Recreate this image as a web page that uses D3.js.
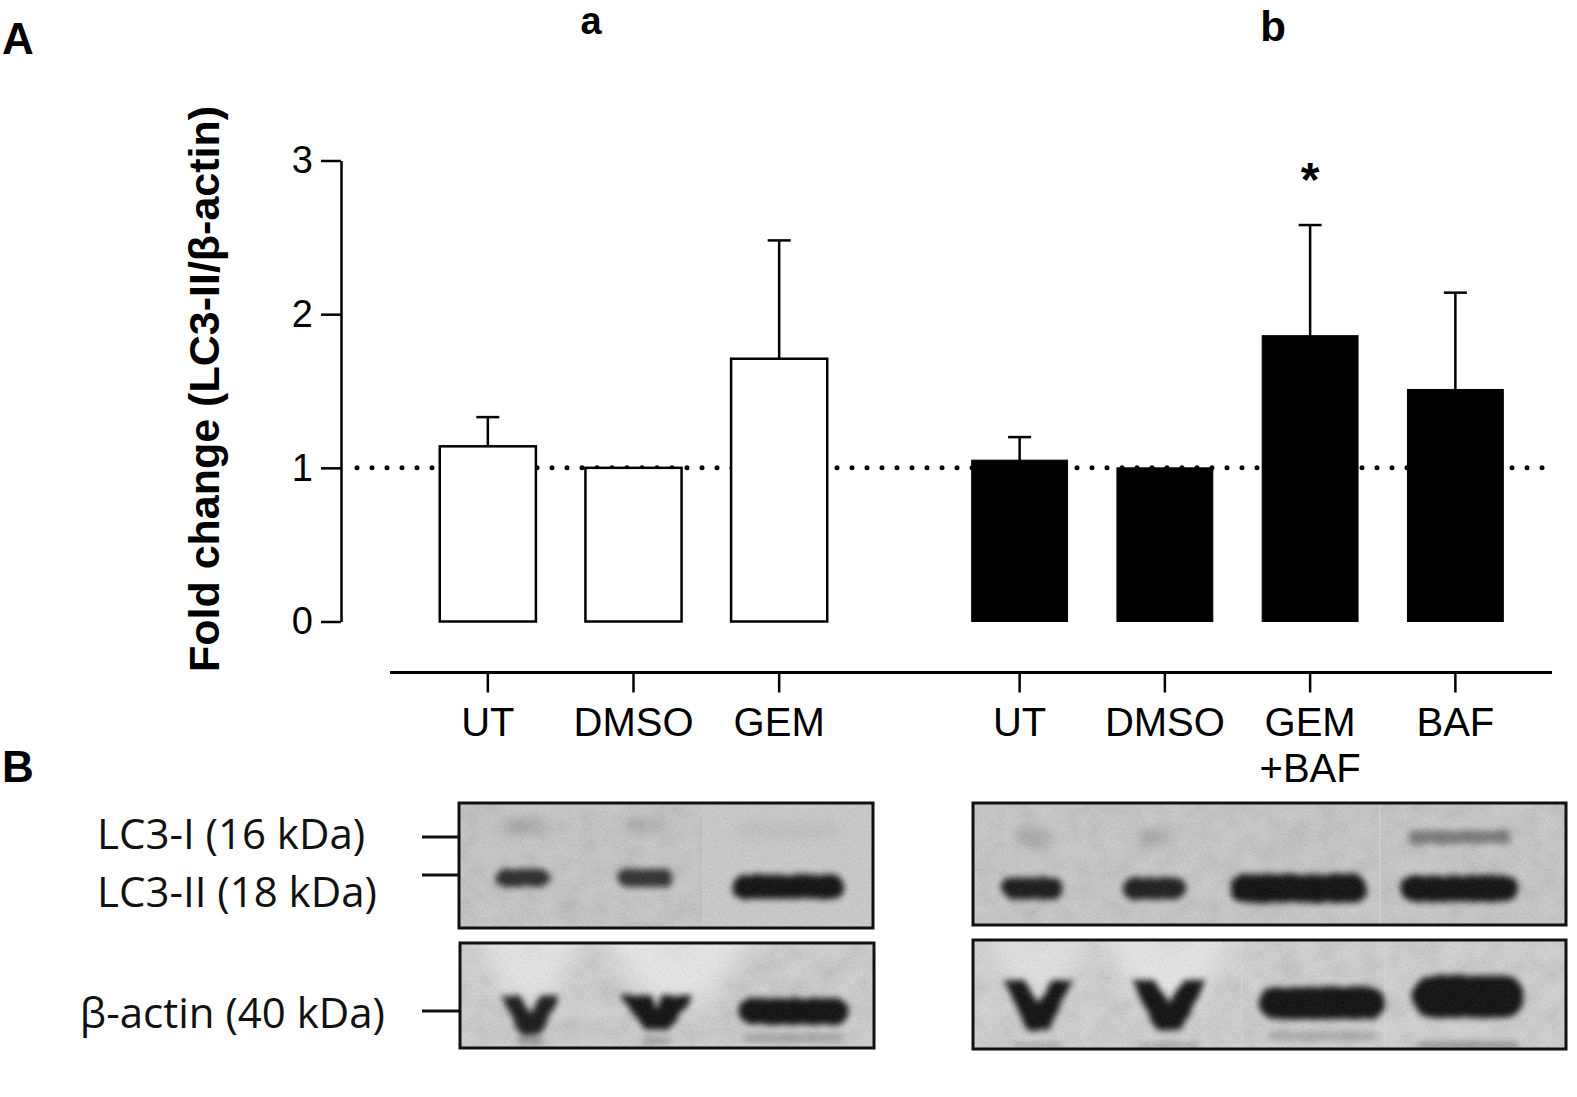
<!DOCTYPE html>
<html>
<head>
<meta charset="utf-8">
<script src="https://cdn.jsdelivr.net/npm/d3@7"></script>
<style>
  body { margin: 0; background: #fff; }
  svg { display: block; }
</style>
</head>
<body>
<div id="chart"></div>
<script>
// ---- data ----
// group a: GEM alone (open bars), group b: with bafilomycin (filled bars)
const catsA = ["UT", "DMSO", "GEM"];
const meanA = [1.14, 1.0, 1.71];
const semA = [0.19, 0, 0.77];

const catsB = ["UT", "DMSO", "GEM+BAF", "BAF"];
const meanB = [1.05, 1.0, 1.86, 1.51];
const semB = [0.15, 0, 0.72, 0.63];
const sigB = ["", "", "*", ""];

const yTicks = [0, 1, 2, 3];

// western blots: relative band intensity per lane (0..1)
const lanesA = ["UT", "DMSO", "GEM"];
const lc3iA = [0.17, 0.15, 0.06];
const lc3iiA = [0.85, 0.82, 1.0];
const actinA = [0.95, 1.0, 1.0];

const lanesB = ["UT", "DMSO", "GEM+BAF", "BAF"];
const lc3iB = [0.18, 0.16, 0.05, 0.42];
const lc3iiB = [0.95, 0.92, 1.0, 1.0];
const actinB = [1.0, 1.0, 1.0, 1.0];

// ---- setup ----
const W = 1577, H = 1097;
const sans = "'Liberation Sans', Arial, Helvetica, sans-serif";
const blotFont = "'Open Sans', 'DejaVu Sans', sans-serif";

const svg = d3.select("#chart").append("svg")
    .attr("width", W)
    .attr("height", H)
    .attr("font-family", sans);

const defs = svg.append("defs");
[["blur2", 2], ["blur3", 3], ["blur6", 6], ["blur12", 12]].forEach(([id, s]) => {
    defs.append("filter").attr("id", id)
        .attr("x", "-50%").attr("y", "-50%").attr("width", "200%").attr("height", "200%")
        .append("feGaussianBlur").attr("stdDeviation", s);
});
// rough edged band: displace then blur
const rough = defs.append("filter").attr("id", "rough")
    .attr("x", "-30%").attr("y", "-60%").attr("width", "160%").attr("height", "220%");
rough.append("feTurbulence").attr("type", "fractalNoise")
    .attr("baseFrequency", 0.1).attr("numOctaves", 2).attr("seed", 4).attr("result", "n");
rough.append("feDisplacementMap").attr("in", "SourceGraphic").attr("in2", "n")
    .attr("scale", 4).attr("xChannelSelector", "R").attr("yChannelSelector", "G").attr("result", "d");
rough.append("feGaussianBlur").attr("in", "d").attr("stdDeviation", 3.4);

// film grain for the blot scans
function noiseFilter(id, freq, alpha, seed) {
    const f = defs.append("filter").attr("id", id);
    f.append("feTurbulence")
        .attr("type", "fractalNoise").attr("baseFrequency", freq)
        .attr("numOctaves", 2).attr("seed", seed);
    f.append("feColorMatrix").attr("type", "matrix")
        .attr("values", "1 0 0 0 0  1 0 0 0 0  1 0 0 0 0  0 0 0 0 " + alpha);
}
noiseFilter("grain", 0.45, 0.16, 7);
noiseFilter("mottle", 0.05, 0.22, 11);

// ---- panel letters ----
svg.append("text").attr("x", 2).attr("y", 54)
    .attr("font-size", 44).attr("font-weight", "bold").text("A");
svg.append("text").attr("x", 2).attr("y", 782)
    .attr("font-size", 44).attr("font-weight", "bold").text("B");
svg.append("text").attr("x", 591).attr("y", 34).attr("text-anchor", "middle")
    .attr("font-size", 38).attr("font-weight", "bold").text("a");
svg.append("text").attr("x", 1273).attr("y", 41).attr("text-anchor", "middle")
    .attr("font-size", 42).attr("font-weight", "bold").text("b");

// ---- bar chart ----
const axisX = 341;
const y = d3.scaleLinear().domain([0, 3]).range([621.5, 160.5]);
const xA = d3.scaleBand().domain(catsA).range([415, 852])
    .paddingInner(0.34).paddingOuter(0.17);
const xB = d3.scaleBand().domain(catsB).range([947, 1528])
    .paddingInner(0.34).paddingOuter(0.17);

// y axis
const yAxisG = svg.append("g")
    .attr("transform", "translate(" + axisX + ",0)")
    .call(d3.axisLeft(y).tickValues(yTicks).tickSize(20).tickSizeOuter(0)
        .tickPadding(8).tickFormat(d3.format("d")));
yAxisG.select(".domain").attr("stroke-width", 2.5);
yAxisG.selectAll(".tick line").attr("stroke-width", 2.5);
yAxisG.selectAll(".tick text")
    .attr("font-size", 38).attr("font-family", sans).attr("fill", "#000");

svg.append("text")
    .attr("transform", "translate(219," + 389 + ") rotate(-90)")
    .attr("text-anchor", "middle")
    .attr("font-size", 43).attr("font-weight", "bold")
    .text("Fold change (LC3-II/β-actin)");

// dotted reference line at 1
svg.append("line")
    .attr("x1", axisX + 16).attr("x2", 1550)
    .attr("y1", y(1)).attr("y2", y(1))
    .attr("stroke", "#000").attr("stroke-width", 5)
    .attr("stroke-linecap", "round").attr("stroke-dasharray", "0 15");

function drawGroup(cats, means, sems, x, fill, cls) {
    const data = cats.map((c, i) => ({ c, m: means[i], e: sems[i] }));
    const g = svg.append("g").attr("class", cls);

    // error bars (upper only)
    const eb = g.selectAll(".err").data(data.filter(d => d.e > 0)).join("g").attr("class", "err");
    eb.append("line")
        .attr("x1", d => x(d.c) + x.bandwidth() / 2).attr("x2", d => x(d.c) + x.bandwidth() / 2)
        .attr("y1", d => y(d.m)).attr("y2", d => y(d.m + d.e))
        .attr("stroke", "#000").attr("stroke-width", 2.5);
    eb.append("line")
        .attr("x1", d => x(d.c) + x.bandwidth() / 2 - 11.5)
        .attr("x2", d => x(d.c) + x.bandwidth() / 2 + 11.5)
        .attr("y1", d => y(d.m + d.e)).attr("y2", d => y(d.m + d.e))
        .attr("stroke", "#000").attr("stroke-width", 2.5);

    g.selectAll(".bar").data(data).join("rect")
        .attr("class", "bar")
        .attr("x", d => x(d.c))
        .attr("y", d => y(d.m))
        .attr("width", x.bandwidth())
        .attr("height", d => y(0) - y(d.m))
        .attr("fill", fill)
        .attr("stroke", "#000")
        .attr("stroke-width", fill === "#fff" ? 2.5 : 1);
    return data;
}

drawGroup(catsA, meanA, semA, xA, "#fff", "groupA");
const dataB = drawGroup(catsB, meanB, semB, xB, "#000", "groupB");

// significance mark
svg.selectAll(".sig").data(dataB.map((d, i) => ({ ...d, s: sigB[i] })).filter(d => d.s))
    .join("text").attr("class", "sig")
    .attr("x", d => xB(d.c) + xB.bandwidth() / 2)
    .attr("y", d => y(d.m + d.e) - 29)
    .attr("text-anchor", "middle")
    .attr("font-size", 48).attr("font-weight", "bold")
    .text(d => d.s);

// x axes (one per group, overlapping in the middle)
const xAxisY = 672.5;
function drawXAxis(x, cats, x1, x2) {
    const g = svg.append("g")
        .attr("transform", "translate(0," + xAxisY + ")")
        .call(d3.axisBottom(x).tickSize(20).tickSizeOuter(0).tickFormat(""));
    g.select(".domain").remove();
    g.selectAll(".tick line").attr("stroke-width", 2.5);
    svg.append("line").attr("x1", x1).attr("x2", x2)
        .attr("y1", xAxisY).attr("y2", xAxisY)
        .attr("stroke", "#000").attr("stroke-width", 3);
    const lab = svg.append("g").selectAll("text").data(cats).join("text")
        .attr("x", d => x(d) + x.bandwidth() / 2)
        .attr("y", 736)
        .attr("text-anchor", "middle")
        .attr("font-size", 40);
    lab.selectAll("tspan").data(d => d.split(/(?=\+)/)).join("tspan")
        .attr("x", function () { return d3.select(this.parentNode).attr("x"); })
        .attr("dy", (d, i) => i === 0 ? 0 : 46)
        .text(d => d);
}
drawXAxis(xA, catsA, 390, 913);
drawXAxis(xB, catsB, 900, 1552);

// ---- western blots ----
function lanes(x0, w, fracs) {
    const sx = d3.scaleLinear().domain([0, 1]).range([x0, x0 + w]);
    const cum = d3.cumsum(fracs);
    return fracs.map((f, i) => ({ c: sx(cum[i] - f / 2), w: sx(f) - sx(0) }));
}

function vPath(cx, w, top, h, notch) {
    // chevron shaped band (smiling lane)
    const p = d3.path();
    p.moveTo(cx - w / 2, top);
    p.lineTo(cx - w * notch / 2, top);
    p.lineTo(cx, top + h * 0.45);
    p.lineTo(cx + w * notch / 2, top);
    p.lineTo(cx + w / 2, top);
    p.lineTo(cx + w * 0.16, top + h);
    p.lineTo(cx - w * 0.16, top + h);
    p.closePath();
    return p.toString();
}

let clipN = 0;
function blotFrame(x, yTop, w, h, bg, splices) {
    const id = "blotclip" + (clipN++);
    defs.append("clipPath").attr("id", id)
        .append("rect").attr("x", x).attr("y", yTop).attr("width", w).attr("height", h);
    const g = svg.append("g");
    const inner = g.append("g").attr("clip-path", "url(#" + id + ")");
    inner.append("rect").attr("x", x).attr("y", yTop).attr("width", w).attr("height", h).attr("fill", bg);
    inner.append("rect").attr("x", x).attr("y", yTop).attr("width", w).attr("height", h)
        .attr("filter", "url(#mottle)").attr("opacity", 0.6);
    splices.forEach(s => {
        inner.append("line")
            .attr("x1", x + s * w).attr("x2", x + s * w)
            .attr("y1", yTop).attr("y2", yTop + h)
            .attr("stroke", "#d6d6d6").attr("stroke-width", 1.2);
    });
    return {
        g, inner,
        finish() {
            inner.append("rect").attr("x", x).attr("y", yTop).attr("width", w).attr("height", h)
                .attr("filter", "url(#grain)").attr("opacity", 0.8);
            g.append("rect").attr("x", x).attr("y", yTop).attr("width", w).attr("height", h)
                .attr("fill", "none").attr("stroke", "#111").attr("stroke-width", 3);
        }
    };
}

function band(g, cx, w, cy, h, op, filt) {
    g.append("rect")
        .attr("x", cx - w / 2).attr("y", cy - h / 2)
        .attr("width", w).attr("height", h)
        .attr("rx", Math.min(h / 2, w / 4))
        .attr("fill", "#050505").attr("fill-opacity", op)
        .attr("filter", "url(#" + filt + ")");
}

// left LC3 blot
{
    const bx = 459, by = 803, bw = 414, bh = 125;
    const f = blotFrame(bx, by, bw, bh, "#c4c4c4", [0.59]);
    f.inner.append("rect").attr("x", bx + bw * 0.59).attr("y", by)
        .attr("width", bw * 0.41).attr("height", bh).attr("fill", "#c9c9c9");
    const L = lanes(bx, bw, [0.31, 0.28, 0.41]);
    const bandW = [0.42, 0.48, 0.66];
    lanesA.forEach((ln, i) => {
        const cyI = by + bh * (i === 2 ? 0.22 : 0.18);
        const cyII = by + bh * (i === 2 ? 0.67 : 0.6);
        band(f.inner, L[i].c, L[i].w * (i === 2 ? 0.6 : 0.32), cyI, 16, lc3iA[i], "blur6");
        band(f.inner, L[i].c, L[i].w * bandW[i], cyII, i === 2 ? 24 : 18, lc3iiA[i], "rough");
    });
    f.finish();
}

// left actin blot
{
    const bx = 460, by = 943, bw = 414, bh = 105;
    const f = blotFrame(bx, by, bw, bh, "#cdcdcd", []);
    const L = lanes(bx, bw, [0.34, 0.27, 0.39]);
    // light halos above the smiling lanes
    f.inner.append("path").attr("d", vPath(L[0].c, 120, by - 20, 80, 0.15))
        .attr("fill", "#e6e6e6").attr("filter", "url(#blur12)");
    f.inner.append("path").attr("d", vPath(L[1].c + 20, 170, by - 20, 80, 0.15))
        .attr("fill", "#e8e8e8").attr("filter", "url(#blur12)");
    f.inner.append("path").attr("d", vPath(L[0].c, 58, by + bh * 0.5, 40, 0.35))
        .attr("fill", "#050505").attr("fill-opacity", actinA[0]).attr("filter", "url(#rough)");
    f.inner.append("path").attr("d", vPath(L[1].c, 74, by + bh * 0.5, 34, 0.12))
        .attr("fill", "#050505").attr("fill-opacity", actinA[1]).attr("filter", "url(#rough)");
    band(f.inner, L[2].c, 110, by + bh * 0.65, 26, actinA[2], "rough");
    band(f.inner, L[2].c, 100, by + bh * 0.9, 9, 0.22 * actinA[2], "blur3");
    band(f.inner, L[0].c, 26, by + bh * 0.93, 10, 0.28, "blur3");
    band(f.inner, L[1].c, 30, by + bh * 0.93, 10, 0.2, "blur3");
    f.finish();
}

// right LC3 blot
{
    const bx = 973, by = 803, bw = 593, bh = 122;
    const f = blotFrame(bx, by, bw, bh, "#c6c6c6", [0.686]);
    const L = lanes(bx, bw, [0.2, 0.21, 0.28, 0.26]);
    const bandW = [0.52, 0.5, 0.82, 0.76];
    const hII = [22, 22, 28, 26];
    lanesB.forEach((ln, i) => {
        const cyI = by + bh * 0.28;
        const cyII = by + bh * 0.7;
        band(f.inner, L[i].c, i === 3 ? L[i].w * 0.66 : 34, cyI, i === 3 ? 14 : 16,
            lc3iB[i], i === 3 ? "rough" : "blur6");
        band(f.inner, L[i].c, L[i].w * bandW[i], cyII, hII[i], lc3iiB[i], "rough");
    });
    f.finish();
}

// right actin blot
{
    const bx = 973, by = 940, bw = 593, bh = 109;
    const f = blotFrame(bx, by, bw, bh, "#cfcfcf", [0.453, 0.695]);
    const L = lanes(bx, bw, [0.22, 0.22, 0.297, 0.196]);
    f.inner.append("path").attr("d", vPath(L[1].c, 160, by - 25, 90, 0.2))
        .attr("fill", "#e6e6e6").attr("filter", "url(#blur12)");
    f.inner.append("path").attr("d", vPath(L[0].c, 130, by - 25, 80, 0.2))
        .attr("fill", "#e2e2e2").attr("filter", "url(#blur12)");
    f.inner.append("path").attr("d", vPath(L[0].c, 68, by + bh * 0.37, 50, 0.42))
        .attr("fill", "#050505").attr("fill-opacity", actinB[0]).attr("filter", "url(#rough)");
    f.inner.append("path").attr("d", vPath(L[1].c, 74, by + bh * 0.37, 50, 0.42))
        .attr("fill", "#050505").attr("fill-opacity", actinB[1]).attr("filter", "url(#rough)");
    band(f.inner, L[2].c, 126, by + bh * 0.58, 32, actinB[2], "rough");
    band(f.inner, L[3].c, 112, by + bh * 0.52, 42, actinB[3], "rough");
    band(f.inner, L[2].c, 110, by + bh * 0.88, 9, 0.2, "blur3");
    band(f.inner, L[3].c, 100, by + bh * 0.97, 9, 0.28, "blur3");
    band(f.inner, L[0].c, 50, by + bh * 0.97, 6, 0.2, "blur3");
    band(f.inner, L[1].c, 60, by + bh * 0.97, 6, 0.2, "blur3");
    f.finish();
}

// blot row labels with marker ticks
const markers = [
    { label: "LC3-I (16 kDa)", yLine: 837, yText: 849, anchor: "start", x: 97 },
    { label: "LC3-II (18 kDa)", yLine: 875, yText: 907, anchor: "start", x: 97 },
    { label: "β-actin (40 kDa)", yLine: 1011, yText: 1028, anchor: "end", x: 385 }
];
svg.selectAll(".mk").data(markers).join("line").attr("class", "mk")
    .attr("x1", 422).attr("x2", 459)
    .attr("y1", d => d.yLine).attr("y2", d => d.yLine)
    .attr("stroke", "#111").attr("stroke-width", 3);
svg.selectAll(".mklab").data(markers).join("text").attr("class", "mklab")
    .attr("x", d => d.x).attr("y", d => d.yText)
    .attr("text-anchor", d => d.anchor)
    .attr("font-family", blotFont).attr("font-size", 42)
    .attr("fill", "#111")
    .text(d => d.label);
</script>
</body>
</html>
